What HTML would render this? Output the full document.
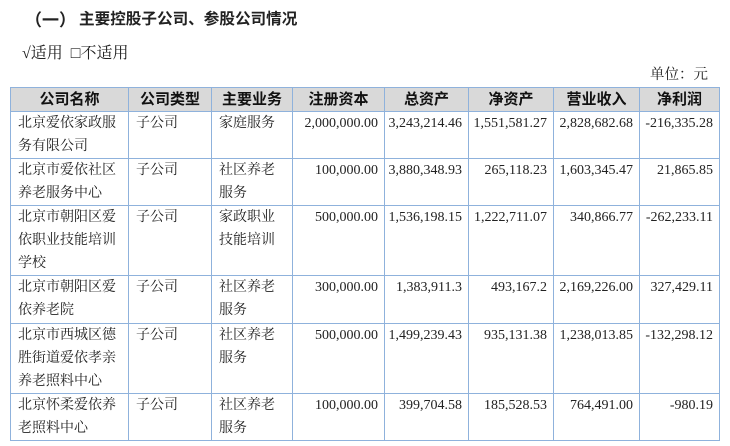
<!DOCTYPE html>
<html><head><meta charset="utf-8"><style>
body{margin:0;width:730px;height:446px;background:#fff;font-family:"Liberation Serif","Noto Serif CJK SC",serif;color:#222;position:relative;overflow:hidden}
.t{position:absolute;white-space:nowrap}
table{position:absolute;left:10px;top:87px;border-collapse:collapse;table-layout:fixed}
td{border:1.5px solid #8fb2dc;font-size:14px;line-height:23px;vertical-align:top;padding:0 0 0 7px;box-sizing:border-box;overflow:hidden}
td.n{text-align:right;padding:0 6px 0 0}
tr.h td{background:#d9d9d9;font-family:"Liberation Sans","Noto Sans CJK SC",sans-serif;font-weight:bold;font-size:15px;text-align:center;padding:0;height:23px;color:#111}
</style></head><body>
<div class="t" style="left:25px;top:6px;font-size:17px;font-weight:bold;font-family:'Liberation Sans','Noto Sans CJK SC',sans-serif">（一）</div>
<div class="t" style="left:79px;top:7px;font-size:15.6px;font-weight:bold;font-family:'Liberation Sans','Noto Sans CJK SC',sans-serif">主要控股子公司、参股公司情况</div>
<div class="t" style="left:22px;top:40px;font-size:16px">√适用 &nbsp;□不适用</div>
<div class="t" style="left:650px;top:63px;font-size:14.5px">单位：元</div>
<table>
<colgroup><col style="width:118px"><col style="width:83px"><col style="width:81px"><col style="width:92px"><col style="width:84px"><col style="width:85px"><col style="width:86px"><col style="width:80px"></colgroup>
<tr class="h"><td>公司名称</td><td>公司类型</td><td>主要业务</td><td>注册资本</td><td>总资产</td><td>净资产</td><td>营业收入</td><td>净利润</td></tr>
<tr style="height:46px"><td>北京爱依家政服<br>务有限公司</td><td>子公司</td><td>家庭服务</td><td class="n">2,000,000.00</td><td class="n">3,243,214.46</td><td class="n">1,551,581.27</td><td class="n">2,828,682.68</td><td class="n">-216,335.28</td></tr>
<tr style="height:46px"><td>北京市爱依社区<br>养老服务中心</td><td>子公司</td><td>社区养老<br>服务</td><td class="n">100,000.00</td><td class="n">3,880,348.93</td><td class="n">265,118.23</td><td class="n">1,603,345.47</td><td class="n">21,865.85</td></tr>
<tr style="height:70px"><td>北京市朝阳区爱<br>依职业技能培训<br>学校</td><td>子公司</td><td>家政职业<br>技能培训</td><td class="n">500,000.00</td><td class="n">1,536,198.15</td><td class="n">1,222,711.07</td><td class="n">340,866.77</td><td class="n">-262,233.11</td></tr>
<tr style="height:48px"><td>北京市朝阳区爱<br>依养老院</td><td>子公司</td><td>社区养老<br>服务</td><td class="n">300,000.00</td><td class="n">1,383,911.3</td><td class="n">493,167.2</td><td class="n">2,169,226.00</td><td class="n">327,429.11</td></tr>
<tr style="height:68px"><td>北京市西城区德<br>胜街道爱依孝亲<br>养老照料中心</td><td>子公司</td><td>社区养老<br>服务</td><td class="n">500,000.00</td><td class="n">1,499,239.43</td><td class="n">935,131.38</td><td class="n">1,238,013.85</td><td class="n">-132,298.12</td></tr>
<tr style="height:46px"><td>北京怀柔爱依养<br>老照料中心</td><td>子公司</td><td>社区养老<br>服务</td><td class="n">100,000.00</td><td class="n">399,704.58</td><td class="n">185,528.53</td><td class="n">764,491.00</td><td class="n">-980.19</td></tr>
</table>
</body></html>
